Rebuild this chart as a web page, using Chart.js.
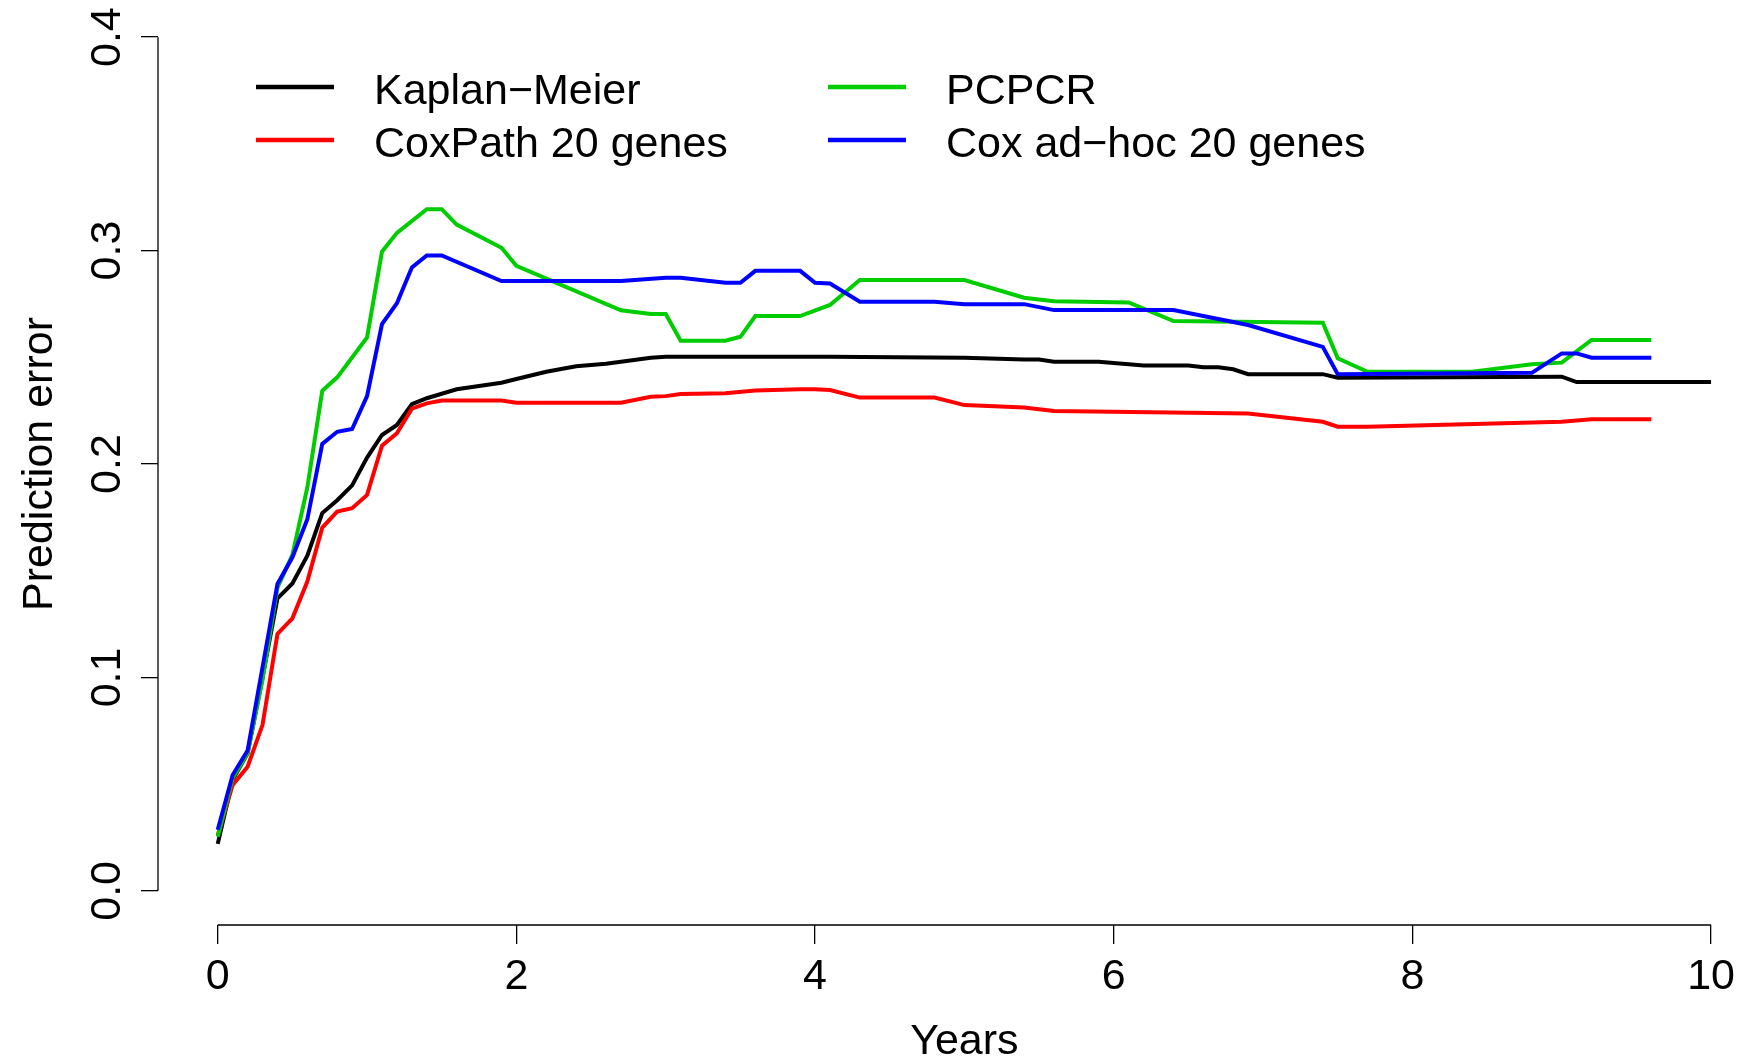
<!DOCTYPE html>
<html>
<head>
<meta charset="utf-8">
<script src="https://cdn.jsdelivr.net/npm/chart.js@4.4.1/dist/chart.umd.min.js"></script>
<style>
  html, body { margin: 0; padding: 0; background: #fff; overflow: hidden; }
  canvas { display: block; }
</style>
</head>
<body>
<canvas id="pe" width="1759" height="1061"></canvas>
<script>
// Tick labels
const xTicks = [0, 2, 4, 6, 8, 10];
const yTicks = [0, 0.1, 0.2, 0.3, 0.4];

// Kaplan-Meier (black)
const kmTimes = [0, 0.1, 0.2, 0.3, 0.4, 0.5, 0.6, 0.7, 0.8, 0.9, 1.0, 1.1, 1.2, 1.3, 1.4, 1.6, 1.9, 2.0, 2.2, 2.4, 2.6, 2.7, 2.9, 3.0, 4.1, 5.0, 5.4, 5.5, 5.6, 5.9, 6.2, 6.5, 6.6, 6.7, 6.8, 6.9, 7.4, 7.5, 9.0, 9.1, 10.0];
const kmError = [0.022, 0.052, 0.0645, 0.100, 0.137, 0.144, 0.157, 0.177, 0.183, 0.190, 0.203, 0.2136, 0.2183, 0.228, 0.2308, 0.235, 0.2381, 0.2398, 0.2432, 0.2458, 0.247, 0.2479, 0.2498, 0.2503, 0.2503, 0.2498, 0.249, 0.249, 0.2479, 0.2479, 0.2461, 0.2461, 0.2453, 0.2453, 0.2444, 0.2421, 0.2421, 0.2404, 0.2409, 0.2384, 0.2384];

// CoxPath 20 genes (red)
const coxPathTimes = [0, 0.1, 0.2, 0.3, 0.4, 0.5, 0.6, 0.7, 0.8, 0.9, 1.0, 1.1, 1.2, 1.3, 1.4, 1.5, 1.9, 2.0, 2.7, 2.9, 3.0, 3.1, 3.4, 3.6, 3.9, 4.0, 4.1, 4.3, 4.8, 5.0, 5.4, 5.6, 6.9, 7.4, 7.5, 7.7, 9.0, 9.2, 9.6];
const coxPathError = [0.026, 0.0496, 0.0582, 0.0778, 0.1204, 0.1277, 0.1449, 0.1702, 0.1777, 0.1793, 0.1855, 0.2086, 0.2144, 0.2259, 0.2284, 0.2297, 0.2297, 0.2287, 0.2287, 0.2315, 0.2318, 0.2328, 0.2331, 0.2344, 0.235, 0.235, 0.2347, 0.2311, 0.2311, 0.2276, 0.2265, 0.2248, 0.2237, 0.2198, 0.2175, 0.2175, 0.2198, 0.221, 0.221];

// PCPCR (green)
const pcpcrTimes = [0, 0.1, 0.2, 0.3, 0.4, 0.5, 0.6, 0.7, 0.8, 1.0, 1.1, 1.2, 1.4, 1.5, 1.6, 1.9, 2.0, 2.7, 2.9, 3.0, 3.1, 3.4, 3.5, 3.6, 3.9, 4.1, 4.3, 5.0, 5.4, 5.6, 6.1, 6.4, 7.4, 7.5, 7.7, 8.4, 8.8, 9.0, 9.2, 9.6];
const pcpcrError = [0.0254, 0.0528, 0.0645, 0.099, 0.142, 0.1574, 0.189, 0.2343, 0.2406, 0.2593, 0.2995, 0.3083, 0.3194, 0.3194, 0.3122, 0.3013, 0.2929, 0.272, 0.2703, 0.2703, 0.2578, 0.2578, 0.2596, 0.2693, 0.2693, 0.2745, 0.2862, 0.2862, 0.2779, 0.2763, 0.2757, 0.267, 0.2662, 0.2495, 0.2432, 0.2432, 0.2467, 0.2475, 0.2581, 0.2581];

// Cox ad-hoc 20 genes (blue)
const adhocTimes = [0, 0.1, 0.2, 0.4, 0.5, 0.6, 0.7, 0.8, 0.9, 1.0, 1.1, 1.2, 1.3, 1.4, 1.5, 1.9, 2.7, 3.0, 3.1, 3.4, 3.5, 3.6, 3.9, 4.0, 4.1, 4.3, 4.8, 5.0, 5.4, 5.6, 6.4, 6.9, 7.4, 7.5, 8.8, 9.0, 9.1, 9.2, 9.6];
const adhocError = [0.0286, 0.0543, 0.0657, 0.1438, 0.1563, 0.1741, 0.2094, 0.2151, 0.2164, 0.2318, 0.2656, 0.2753, 0.2921, 0.2977, 0.2977, 0.2857, 0.2857, 0.2873, 0.2873, 0.2849, 0.2849, 0.2905, 0.2905, 0.2849, 0.2846, 0.276, 0.276, 0.2749, 0.2749, 0.2721, 0.2721, 0.2651, 0.2549, 0.2421, 0.2427, 0.2518, 0.2518, 0.2498, 0.2498];

const FONT = '43px "Liberation Sans", Arial, Helvetica, sans-serif';

function puntos(times, values) {
  return times.map((t, i) => ({ x: t, y: values[i] }));
}

function serie(label, times, values, color, order) {
  return {
    label: label,
    data: puntos(times, values),
    borderColor: color,
    backgroundColor: color,
    borderWidth: 4,
    pointRadius: 0,
    tension: 0,
    fill: false,
    order: order,
  };
}

// R-style axes, labels and legend drawn on top of the chart
const ejesR = {
  id: "ejesR",
  afterDraw(chart) {
    const ctx = chart.ctx;
    const sx = chart.scales.x;
    const sy = chart.scales.y;
    const area = chart.chartArea;
    ctx.save();
    ctx.strokeStyle = "#000";
    ctx.fillStyle = "#000";
    ctx.lineWidth = 1.3;

    // axis lines
    ctx.beginPath();
    ctx.moveTo(sx.getPixelForValue(xTicks[0]), area.bottom);
    ctx.lineTo(sx.getPixelForValue(xTicks[xTicks.length - 1]), area.bottom);
    ctx.moveTo(area.left, sy.getPixelForValue(yTicks[0]));
    ctx.lineTo(area.left, sy.getPixelForValue(yTicks[yTicks.length - 1]));
    ctx.stroke();

    ctx.font = FONT;
    ctx.textAlign = "center";
    ctx.textBaseline = "alphabetic";

    // x tick labels
    xTicks.forEach((v) => {
      ctx.fillText(String(v), sx.getPixelForValue(v), area.bottom + 64);
    });
    ctx.fillText("Years", (sx.getPixelForValue(0) + sx.getPixelForValue(10)) / 2, area.bottom + 129);

    // y tick labels (rotated)
    yTicks.forEach((v) => {
      ctx.save();
      ctx.translate(area.left - 38, sy.getPixelForValue(v));
      ctx.rotate(-Math.PI / 2);
      ctx.fillText(v.toFixed(1), 0, 0);
      ctx.restore();
    });
    ctx.save();
    ctx.translate(area.left - 106, (sy.getPixelForValue(0) + sy.getPixelForValue(0.4)) / 2);
    ctx.rotate(-Math.PI / 2);
    ctx.fillText("Prediction error", 0, 0);
    ctx.restore();

    // legend, two columns
    const colX = [256, 828];
    const rowY = [87, 140];
    ctx.textAlign = "left";
    ctx.textBaseline = "middle";
    chart.data.datasets.forEach((ds, i) => {
      const c = Math.floor(i / 2);
      const r = i % 2;
      ctx.strokeStyle = ds.borderColor;
      ctx.lineWidth = 4.5;
      ctx.beginPath();
      ctx.moveTo(colX[c], rowY[r]);
      ctx.lineTo(colX[c] + 78, rowY[r]);
      ctx.stroke();
      ctx.fillText(ds.label, colX[c] + 118, rowY[r] + 5);
    });
    ctx.restore();
  },
};

const ctx = document.getElementById("pe").getContext("2d");
new Chart(ctx, {
  type: "line",
  data: {
    datasets: [
      serie("Kaplan\u2212Meier", kmTimes, kmError, "#000000", 3),
      serie("CoxPath 20 genes", coxPathTimes, coxPathError, "#FF0000", 2),
      serie("PCPCR", pcpcrTimes, pcpcrError, "#00CD00", 1),
      serie("Cox ad\u2212hoc 20 genes", adhocTimes, adhocError, "#0000FF", 0),
    ],
  },
  options: {
    responsive: false,
    devicePixelRatio: 1,
    animation: false,
    layout: { padding: { top: 3, right: 0, left: 0, bottom: 0 } },
    plugins: {
      legend: { display: false },
      tooltip: { enabled: false },
    },
    scales: {
      x: {
        type: "linear",
        min: -0.4,
        max: 10.321,
        afterBuildTicks: (s) => {
          s.ticks = xTicks.map((v) => ({ value: v }));
        },
        afterFit: (s) => {
          s.height = 136;
        },
        ticks: { display: false },
        grid: { display: true, drawOnChartArea: false, drawTicks: true, tickLength: 19, color: "#000", lineWidth: 1.3 },
        border: { display: false },
      },
      y: {
        type: "linear",
        min: -0.016,
        max: 0.416,
        afterBuildTicks: (s) => {
          s.ticks = yTicks.map((v) => ({ value: v }));
        },
        afterFit: (s) => {
          s.width = 158;
        },
        ticks: { display: false },
        grid: { display: true, drawOnChartArea: false, drawTicks: true, tickLength: 17, color: "#000", lineWidth: 1.3 },
        border: { display: false },
      },
    },
  },
  plugins: [ejesR],
});
</script>
</body>
</html>
